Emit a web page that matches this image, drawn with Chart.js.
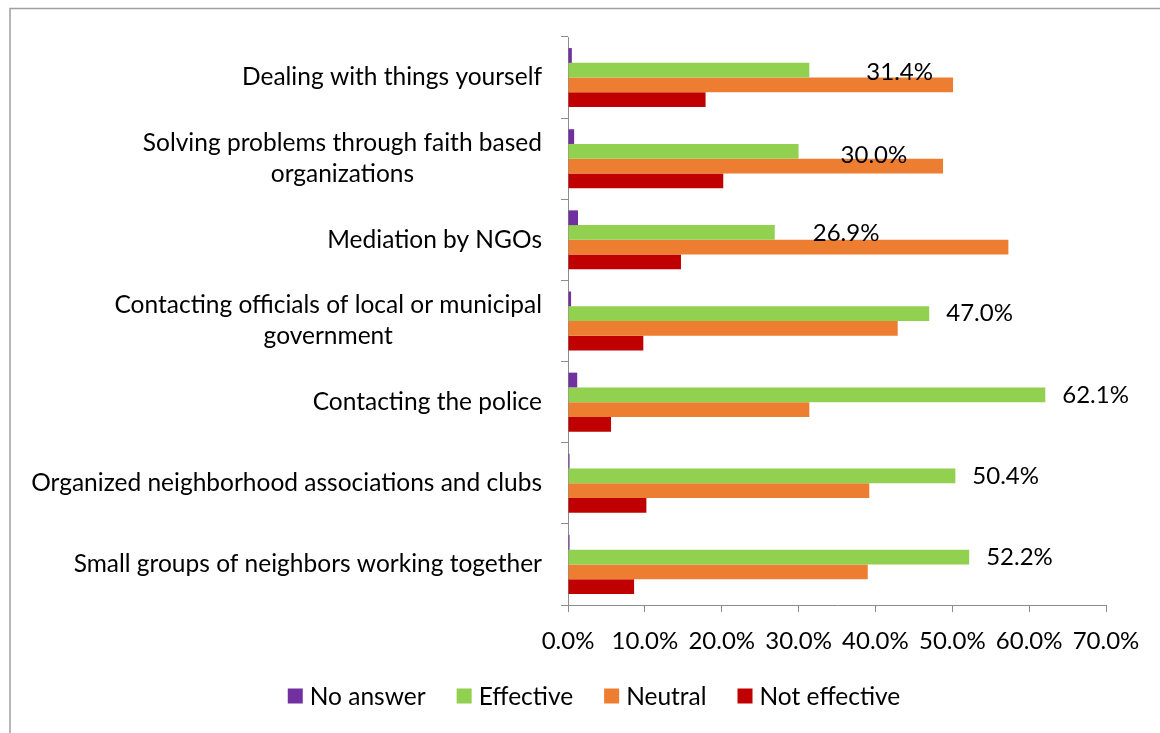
<!DOCTYPE html>
<html>
<head>
<meta charset="utf-8">
<script src="https://cdn.jsdelivr.net/npm/chart.js@4.4.0/dist/chart.umd.min.js"></script>
<style>
  html, body { margin: 0; padding: 0; background: #fff; }
  canvas { display: block; }
</style>
</head>
<body>
<canvas id="chart" width="1160" height="733"></canvas>
<script>
// categories, top to bottom (arrays = wrapped labels)
const categories = [
  "Dealing with things yourself",
  ["Solving problems through faith based", "organizations"],
  "Mediation by NGOs",
  ["Contacting officials of local or municipal", "government"],
  "Contacting the police",
  "Organized neighborhood associations and clubs",
  "Small groups of neighbors working together"
];
const seriesNames = ["No answer", "Effective", "Neutral", "Not effective"];
const noAnswer = [0.5, 0.8, 1.3, 0.4, 1.2, 0.2, 0.2];
const effective = [31.4, 30.0, 26.9, 47.0, 62.1, 50.4, 52.2];
const neutral = [50.1, 48.8, 57.3, 42.9, 31.4, 39.2, 39.0];
const notEffective = [17.9, 20.2, 14.7, 9.8, 5.6, 10.2, 8.6];
const xTicks = [0, 10, 20, 30, 40, 50, 60, 70];

const colors = ['#7030A0', '#92D050', '#ED7D31', '#C00000'];
const axisGray = '#8c8c8c';
const family = 'Lato';
const labelSize = 24.5;
const tickSize = 24;

// hand nudges of the Effective value labels (extra px right / down)
const labelShiftX = [40, 25, 21, 0, 0, 0, 0];
const labelShiftY = [2, 4, 1, 0, 0, 0, 0];

const framePlugin = {
  id: 'frame',
  beforeDraw(chart) {
    const ctx = chart.ctx;
    ctx.save();
    ctx.fillStyle = '#fff';
    ctx.fillRect(0, 0, chart.width, chart.height);
    ctx.strokeStyle = '#a0a0a0';
    ctx.lineWidth = 1.5;
    ctx.beginPath();
    ctx.moveTo(10, chart.height + 5);
    ctx.lineTo(10, 8.5);
    ctx.lineTo(chart.width + 5, 8.5);
    ctx.stroke();
    ctx.restore();
  }
};

// y labels: right edge fixed, wrapped lines centred on each other
const yLabelPlugin = {
  id: 'yLabels',
  afterDraw(chart) {
    const ctx = chart.ctx;
    const ys = chart.scales.y;
    const right = chart.chartArea.left - 26;
    const lineH = 31;
    ctx.save();
    ctx.font = labelSize + 'px ' + family;
    ctx.fillStyle = '#000';
    ctx.textAlign = 'center';
    ctx.textBaseline = 'middle';
    categories.forEach((c, i) => {
      const lines = Array.isArray(c) ? c : [c];
      const w = Math.max(...lines.map(l => ctx.measureText(l).width));
      const cx = right - w / 2;
      const cy = ys.getPixelForValue(i);
      lines.forEach((l, k) => {
        ctx.fillText(l, cx, cy + (k - (lines.length - 1) / 2) * lineH);
      });
    });
    ctx.restore();
  }
};

const valueLabelPlugin = {
  id: 'valueLabels',
  afterDatasetsDraw(chart) {
    const ctx = chart.ctx;
    const meta = chart.getDatasetMeta(1);
    ctx.save();
    ctx.font = tickSize + 'px ' + family;
    ctx.fillStyle = '#000';
    ctx.textAlign = 'left';
    ctx.textBaseline = 'middle';
    meta.data.forEach((el, i) => {
      ctx.fillText(effective[i].toFixed(1) + '%', el.x + 17 + labelShiftX[i], el.y + labelShiftY[i]);
    });
    ctx.restore();
  }
};

const legendPlugin = {
  id: 'bottomLegend',
  afterDraw(chart) {
    const ctx = chart.ctx;
    ctx.save();
    ctx.font = labelSize + 'px ' + family;
    ctx.textBaseline = 'middle';
    ctx.textAlign = 'left';
    const box = 15, gapText = 7, gapItem = 31;
    const items = chart.data.datasets.map(d => ({
      text: d.label, color: d.backgroundColor, w: ctx.measureText(d.label).width
    }));
    const total = items.reduce((s, it) => s + box + gapText + it.w, 0) + gapItem * (items.length - 1);
    let x = 594 - total / 2;
    const y = 697;
    items.forEach(it => {
      ctx.fillStyle = it.color;
      ctx.fillRect(x, y - box / 2 - 1, box, box);
      ctx.fillStyle = '#000';
      ctx.fillText(it.text, x + box + gapText, y);
      x += box + gapText + it.w + gapItem;
    });
    ctx.restore();
  }
};

const seriesData = [noAnswer, effective, neutral, notEffective];

const config = {
  type: 'bar',
  data: {
    labels: categories,
    datasets: seriesNames.map((name, i) => ({
      label: name,
      data: seriesData[i],
      backgroundColor: colors[i],
      borderWidth: 0,
      barPercentage: 1,
      categoryPercentage: 0.727
    }))
  },
  options: {
    indexAxis: 'y',
    responsive: false,
    animation: false,
    layout: { padding: { top: 37, right: 54, bottom: 0, left: 0 } },
    scales: {
      x: {
        min: 0,
        max: 70,
        afterBuildTicks: s => { s.ticks = xTicks.map(v => ({ value: v })); },
        afterFit: s => { s.height = 128; },
        grid: { drawOnChartArea: false, drawTicks: true, tickLength: 7, color: axisGray },
        border: { color: axisGray, width: 1 },
        ticks: {
          color: '#000',
          padding: 15,
          maxRotation: 0,
          font: { family: family, size: tickSize },
          callback: v => v.toFixed(1) + '%'
        }
      },
      y: {
        afterFit: s => { s.width = 568; },
        grid: { drawOnChartArea: false, drawTicks: true, tickLength: 7, color: axisGray, offset: true },
        border: { color: axisGray, width: 1 },
        ticks: { display: false }
      }
    },
    plugins: {
      legend: { display: false },
      tooltip: { enabled: false }
    }
  },
  plugins: [framePlugin, yLabelPlugin, valueLabelPlugin, legendPlugin]
};

var myChart = new Chart(document.getElementById('chart'), config);
</script>
</body>
</html>
